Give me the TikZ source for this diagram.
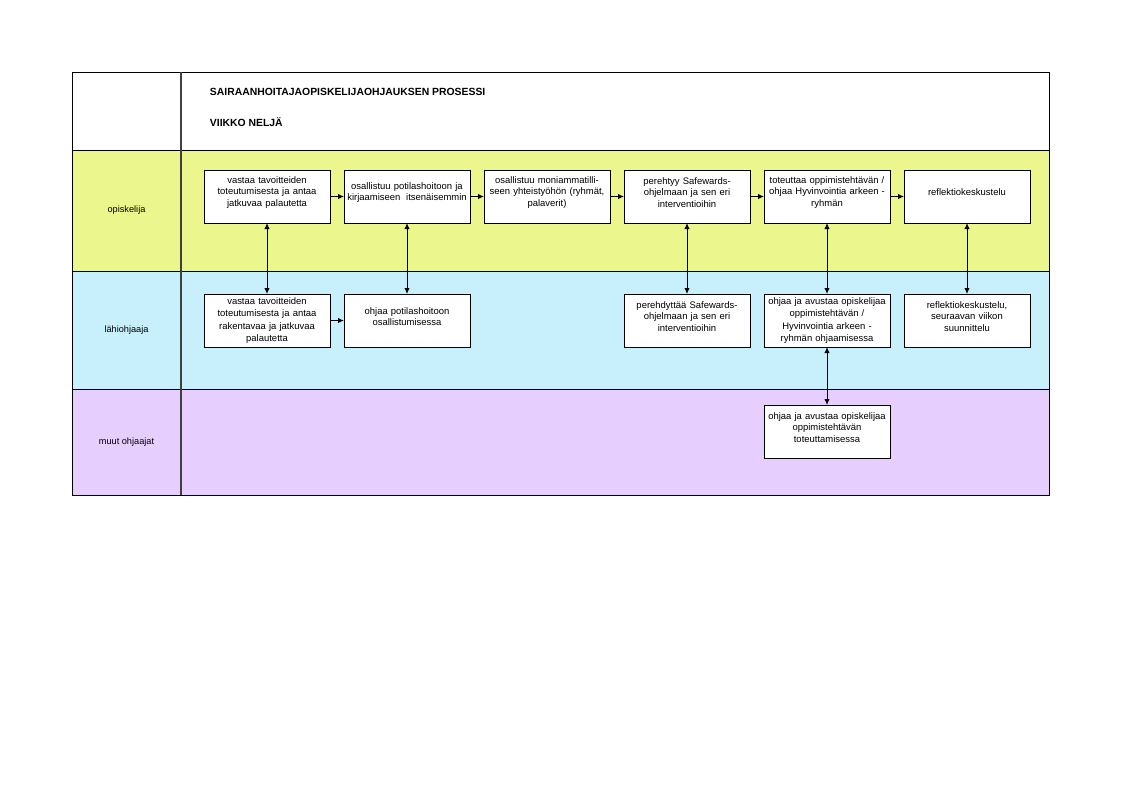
\documentclass[tikz,border=0pt]{standalone}
\usepackage{fontspec}
\setmainfont{Liberation Sans}
\usetikzlibrary{arrows.meta,positioning}
\definecolor{opyellow}{RGB}{235,246,140}
\definecolor{lhblue}{RGB}{199,239,252}
\definecolor{mulilac}{RGB}{230,206,255}
\newcommand\boxgap{\endgraf\vspace{6pt}}
\begin{document}
\begin{tikzpicture}[x=0.75pt,y=-0.75pt,>={Latex[length=4.5pt,width=4pt]},
  line width=0.75pt,node distance=10.5pt,
  plainbox/.style={draw,fill=white,outer sep=0pt,inner sep=1pt,minimum width=94.5pt,minimum height=39.75pt,
    text width=92pt,align=center,font=\fontsize{7.1}{8.6}\selectfont},
  box/.style={plainbox,execute at end node=\boxgap},
  tallbox/.style={plainbox,font=\fontsize{7.1}{9.3}\selectfont},
  lane/.style={font=\fontsize{6.9}{8}\selectfont},
  title/.style={anchor=west,font=\fontsize{7.8}{9}\selectfont\bfseries}]
\useasboundingbox (0,0) rectangle (1122,794);
%lanes
  \fill[white] (72,72) rectangle (1049,150);
  \fill[opyellow] (72,150) rectangle (1049,271);
  \fill[lhblue] (72,271) rectangle (1049,389);
  \fill[mulilac] (72,389) rectangle (1049,495);
  \draw (72,72) rectangle (1049,495);
  \draw (72,150) -- (1049,150);
  \draw (72,271) -- (1049,271);
  \draw (72,389) -- (1049,389);
  \draw[line width=1pt,black!75] (181,72) -- (181,495);
%header
  \node[title] (t1) at (205,92) {SAIRAANHOITAJAOPISKELIJAOHJAUKSEN PROSESSI};
  \node[title] (t2) at (205,122) {VIIKKO NELJÄ};
  \node[lane] (l1) at (126.5,210.5) {opiskelija};
  \node[lane] (l2) at (126.5,330) {lähiohjaaja};
  \node[lane] (l3) at (126.5,442) {muut ohjaajat};
%opiskelija
  \node[box] (a1) at (267,196.5) {vastaa tavoitteiden\\toteutumisesta ja antaa\\jatkuvaa palautetta};
  \node[box] (a2) [right=of a1] {osallistuu potilashoitoon ja\\kirjaamiseen\kern2pt\ itsenäisemmin};
  \node[box] (a3) [right=of a2] {osallistuu moniammatilli-\\seen yhteistyöhön (ryhmät,\\palaverit)};
  \node[box] (a4) [right=of a3] {perehtyy Safewards-\\ohjelmaan ja sen eri\\interventioihin};
  \node[box] (a5) [right=of a4] {toteuttaa oppimistehtävän /\\ohjaa Hyvinvointia arkeen -\\ryhmän};
  \node[box] (a6) [right=of a5] {reflektiokeskustelu};
%lahiohjaaja
  \node[tallbox] (b1) [below=53.25pt of a1] {vastaa tavoitteiden\\toteutumisesta ja antaa\\rakentavaa ja jatkuvaa\\palautetta};
  \node[box] (b2) [below=53.25pt of a2] {ohjaa potilashoitoon\\osallistumisessa};
  \node[box] (b4) [below=53.25pt of a4] {perehdyttää Safewards-\\ohjelmaan ja sen eri\\interventioihin};
  \node[tallbox] (b5) [below=53.25pt of a5] {ohjaa ja avustaa opiskelijaa\\oppimistehtävän /\\Hyvinvointia arkeen -\\ryhmän ohjaamisessa};
  \node[box] (b6) [below=53.25pt of a6] {reflektiokeskustelu,\\seuraavan viikon\\suunnittelu};
%muut
  \node[box] (c5) [below=43.5pt of b5] {ohjaa ja avustaa opiskelijaa\\oppimistehtävän\\toteuttamisessa};
%paths
  \foreach \i/\j in {a1/a2,a2/a3,a3/a4,a4/a5,a5/a6,b1/b2}
    \draw[->] (\i) -- (\j);
  \foreach \i/\j in {a1/b1,a2/b2,a4/b4,a5/b5,a6/b6,b5/c5}
    \draw[<->] (\i) -- (\j);
\end{tikzpicture}
\end{document}
